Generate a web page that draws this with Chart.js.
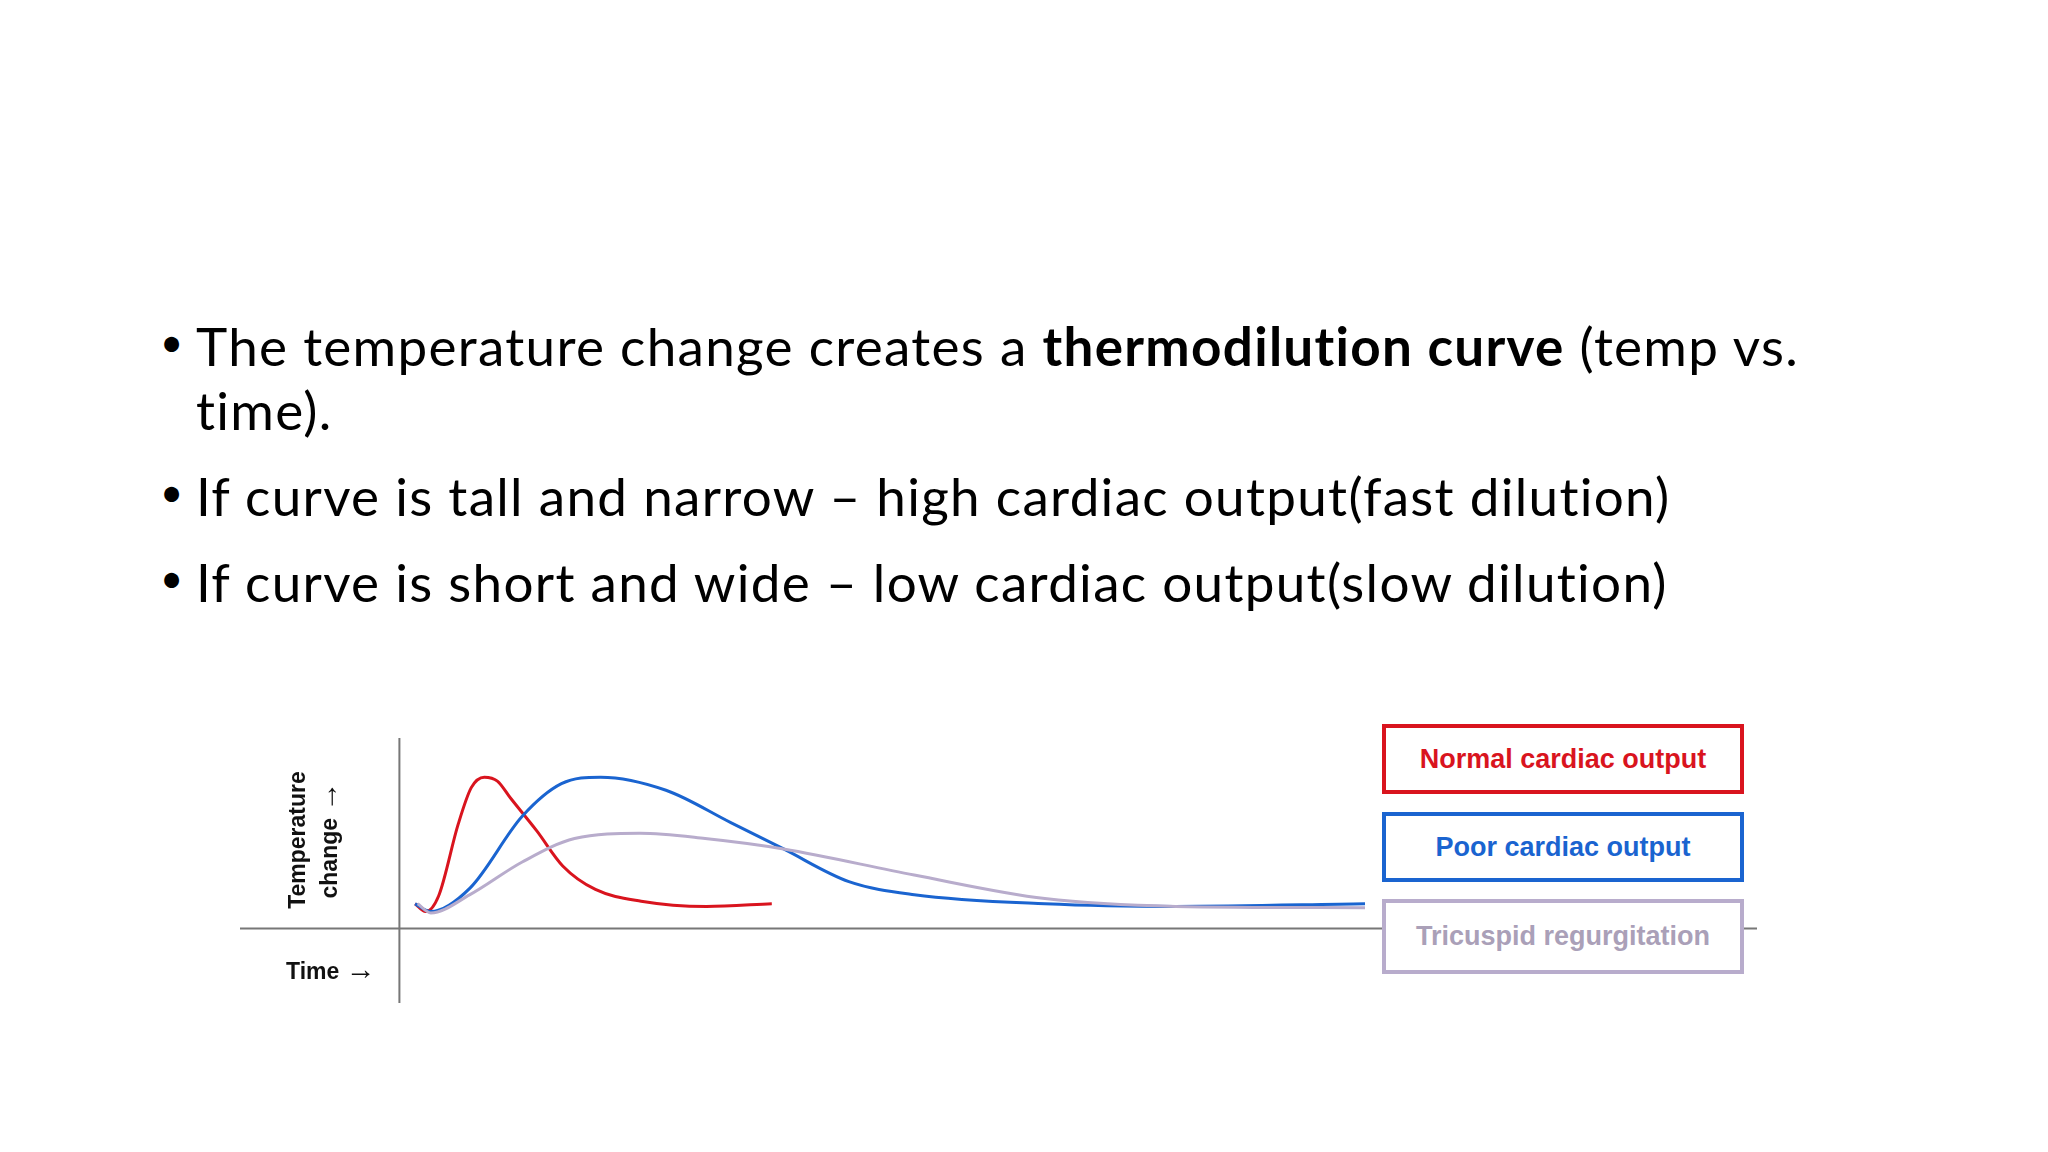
<!DOCTYPE html>
<html><head><meta charset="utf-8">
<script src="https://cdn.jsdelivr.net/npm/chart.js@4"></script>
<style>
body{margin:0;width:2048px;height:1152px;background:#fff;position:relative;overflow:hidden;font-family:Lato,"Open Sans",sans-serif}
.b{position:absolute;left:160px;font-size:53px;color:#000;white-space:nowrap;line-height:64px;letter-spacing:1.3px}
.b span.d{position:absolute;left:0;font-size:40px;top:-4px}
.b .t{position:absolute;left:36px}
.lg{position:absolute;left:1382px;width:362px;box-sizing:border-box;border:4px solid;font-family:"Liberation Sans",Arial,sans-serif;font-weight:bold;font-size:27px;display:flex;align-items:center;justify-content:center;background:#fff}
.ax{position:absolute;font-family:"Liberation Sans",Arial,sans-serif;font-weight:bold;font-size:23px;color:#111}
.ar{font-size:30px;font-weight:bold}
</style></head><body>
<div class="b" style="top:314px"><span class="d">•</span><span class="t">The temperature change creates a <b>thermodilution curve</b> (temp vs.<br>time).</span></div>
<div class="b" style="top:464px"><span class="d">•</span><span class="t">If curve is tall and narrow – high cardiac output(fast dilution)</span></div>
<div class="b" style="top:550px"><span class="d">•</span><span class="t">If curve is short and wide – low cardiac output(slow dilution)</span></div>
<canvas id="c" width="2048" height="1152" style="position:absolute;left:0;top:0"></canvas>
<div class="lg" style="top:724px;height:70px;border-color:#d9141e;color:#d9141e">Normal cardiac output</div>
<div class="lg" style="top:812px;height:70px;border-color:#1a64d0;color:#1a64d0">Poor cardiac output</div>
<div class="lg" style="top:899px;height:75px;border-color:#b8accc;color:#aaa0b8">Tricuspid regurgitation</div>
<div class="ax" style="width:150px;transform:rotate(-90deg);transform-origin:center;text-align:center;line-height:30px;top:805px;left:242px;height:70px;">Temperature<br>change <span class="ar">→</span></div>
<div class="ax" style="left:286px;top:952px">Time <span class="ar">→</span></div>
<script>
const normalX=[12,20,30,45,55,65,75,85,105,125,150,185,235,285];
const normalY=[19,13,25,80,108,116,113,100,75,48,30,21,17,19];
const poorX=[12,24,54,94,124,154,204,254,294,344,394,494,594,739];
const poorY=[19,13,31,86,111,116,106,81,61,36,26,19,17,19];
const tricX=[14,24,54,94,134,184,234,294,394,494,594,739];
const tricY=[19,12,26,51,69,73,69,61,41,23,17,16];
const pts=(xs,ys)=>xs.map((x,i)=>({x,y:ys[i]}));
const axes={id:'axes',beforeDatasetsDraw(ch){const c=ch.ctx,x=ch.scales.x,y=ch.scales.y;c.save();c.strokeStyle='#777';c.lineWidth=2;c.beginPath();
const y0=y.getPixelForValue(0),x0=x.getPixelForValue(0);c.moveTo(ch.chartArea.left,y0);c.lineTo(ch.chartArea.right,y0);c.moveTo(x0,ch.chartArea.top);c.lineTo(x0,ch.chartArea.bottom);c.stroke();c.restore();}};
new Chart(document.getElementById('c'),{type:'line',
data:{datasets:[
{data:pts(tricX,tricY),borderColor:'#b8accc',borderWidth:3},
{data:pts(poorX,poorY),borderColor:'#1a64d0',borderWidth:3},
{data:pts(normalX,normalY),borderColor:'#d9141e',borderWidth:3}]},
options:{responsive:false,animation:false,layout:{padding:{left:240,right:291,top:738,bottom:149}},
elements:{point:{radius:0},line:{cubicInterpolationMode:'monotone'}},
plugins:{legend:{display:false},tooltip:{enabled:false}},
scales:{x:{type:'linear',min:-122,max:1039,display:false},y:{min:-57,max:146,display:false}}},
plugins:[axes]});
</script></body></html>
